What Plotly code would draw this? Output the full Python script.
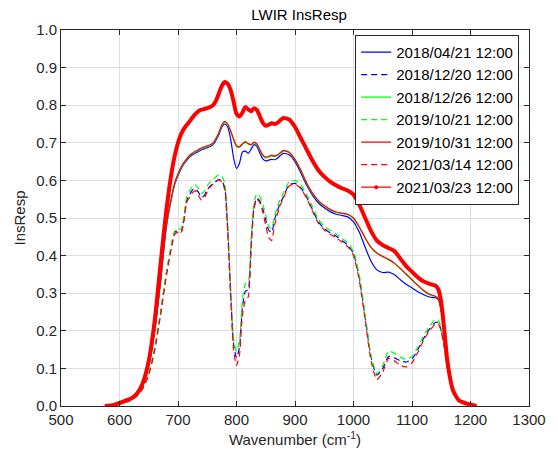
import plotly.graph_objects as go

# Wavenumber grid (cm^-1)
wn = [575, 590, 600, 610, 620, 630, 640, 650, 660, 670, 680,
      690, 695, 700, 705, 710, 715, 720, 725, 730, 735, 740, 745, 750, 755, 760, 765, 770, 775, 780,
      785, 790, 795, 800, 805, 810, 815, 820, 825, 830, 835, 840, 845, 850, 855, 860, 865, 870, 875,
      880, 890, 900, 910, 920, 930, 940, 950, 960, 970, 980, 990, 1000, 1010, 1020, 1030, 1040, 1050,
      1060, 1070, 1080, 1090, 1100, 1110, 1120, 1130, 1140,
      1145, 1150, 1155, 1160, 1165, 1170, 1180, 1190, 1200, 1210]

r_20180421 = [0.0, 0.002, 0.006, 0.012, 0.018, 0.03, 0.057, 0.108, 0.197, 0.327, 0.475,
              0.56, 0.592, 0.613, 0.63, 0.643, 0.653, 0.662, 0.668, 0.673, 0.677, 0.681, 0.684, 0.687, 0.69, 0.695, 0.707, 0.722, 0.742, 0.75,
              0.742, 0.71, 0.66, 0.632, 0.645, 0.675, 0.678, 0.672, 0.683, 0.695, 0.69, 0.672, 0.657, 0.652, 0.654, 0.656, 0.655, 0.659, 0.666,
              0.672, 0.668, 0.65, 0.62, 0.587, 0.56, 0.54, 0.527, 0.517, 0.51, 0.507, 0.503, 0.49, 0.462, 0.422, 0.385, 0.362, 0.355,
              0.356, 0.349, 0.336, 0.324, 0.314, 0.304, 0.296, 0.29, 0.288,
              0.283, 0.253, 0.193, 0.12, 0.074, 0.041, 0.015, 0.007, 0.003, 0.0]

r_20181220 = [0.0, 0.002, 0.005, 0.01, 0.016, 0.027, 0.048, 0.085, 0.15, 0.245, 0.35,
              0.435, 0.463, 0.466, 0.462, 0.495, 0.548, 0.562, 0.575, 0.578, 0.568, 0.555, 0.56, 0.575, 0.585, 0.592, 0.598, 0.603, 0.598, 0.58,
              0.47, 0.3, 0.165, 0.128, 0.155, 0.26, 0.305, 0.31, 0.43, 0.53, 0.553, 0.545, 0.525, 0.495, 0.468, 0.462, 0.495, 0.52, 0.54,
              0.556, 0.588, 0.592, 0.58, 0.555, 0.522, 0.49, 0.472, 0.461, 0.452, 0.44, 0.428, 0.405, 0.34, 0.235, 0.13, 0.082, 0.1,
              0.132, 0.128, 0.12, 0.117, 0.125, 0.15, 0.18, 0.205, 0.222,
              0.222, 0.2, 0.16, 0.105, 0.07, 0.045, 0.015, 0.005, 0.002, 0.0]

r_20181226 = [0.0, 0.002, 0.006, 0.012, 0.018, 0.03, 0.058, 0.11, 0.2, 0.33, 0.478,
              0.563, 0.595, 0.616, 0.633, 0.646, 0.656, 0.665, 0.671, 0.676, 0.68, 0.684, 0.687, 0.69, 0.693, 0.698, 0.71, 0.726, 0.746, 0.755,
              0.748, 0.73, 0.708, 0.69, 0.688, 0.695, 0.701, 0.697, 0.694, 0.7, 0.695, 0.68, 0.666, 0.66, 0.662, 0.665, 0.663, 0.666, 0.672,
              0.678, 0.674, 0.655, 0.626, 0.592, 0.565, 0.545, 0.532, 0.522, 0.515, 0.512, 0.509, 0.499, 0.475, 0.446, 0.421, 0.406, 0.397,
              0.389, 0.379, 0.365, 0.35, 0.335, 0.32, 0.306, 0.296, 0.291,
              0.284, 0.254, 0.194, 0.121, 0.075, 0.042, 0.015, 0.007, 0.003, 0.0]

r_20191021 = [0.0, 0.002, 0.005, 0.01, 0.016, 0.027, 0.048, 0.086, 0.152, 0.248, 0.355,
              0.44, 0.468, 0.472, 0.47, 0.505, 0.557, 0.572, 0.584, 0.588, 0.578, 0.566, 0.571, 0.585, 0.596, 0.603, 0.61, 0.615, 0.61, 0.592,
              0.485, 0.315, 0.18, 0.145, 0.172, 0.28, 0.325, 0.33, 0.445, 0.54, 0.565, 0.557, 0.537, 0.507, 0.478, 0.472, 0.505, 0.53, 0.55,
              0.566, 0.596, 0.6, 0.588, 0.563, 0.53, 0.497, 0.478, 0.467, 0.458, 0.446, 0.434, 0.411, 0.347, 0.242, 0.135, 0.086, 0.108,
              0.146, 0.14, 0.13, 0.124, 0.132, 0.157, 0.187, 0.212, 0.23,
              0.229, 0.206, 0.164, 0.108, 0.072, 0.046, 0.015, 0.005, 0.002, 0.0]

r_20191031 = [0.0, 0.002, 0.006, 0.012, 0.018, 0.03, 0.058, 0.11, 0.2, 0.33, 0.48,
              0.565, 0.597, 0.618, 0.635, 0.648, 0.658, 0.667, 0.673, 0.678, 0.682, 0.686, 0.689, 0.692, 0.695, 0.70, 0.712, 0.728, 0.748, 0.757,
              0.75, 0.732, 0.71, 0.692, 0.69, 0.697, 0.703, 0.698, 0.695, 0.702, 0.697, 0.682, 0.668, 0.662, 0.664, 0.667, 0.665, 0.668, 0.674,
              0.68, 0.675, 0.656, 0.627, 0.593, 0.566, 0.546, 0.533, 0.523, 0.516, 0.513, 0.51, 0.5, 0.476, 0.447, 0.422, 0.407, 0.398,
              0.39, 0.38, 0.366, 0.351, 0.336, 0.321, 0.307, 0.297, 0.292,
              0.285, 0.255, 0.195, 0.122, 0.075, 0.042, 0.015, 0.007, 0.003, 0.0]

r_20210314 = [0.0, 0.002, 0.005, 0.01, 0.016, 0.027, 0.047, 0.083, 0.147, 0.24, 0.345,
              0.43, 0.458, 0.462, 0.46, 0.49, 0.542, 0.556, 0.568, 0.572, 0.56, 0.548, 0.553, 0.57, 0.582, 0.59, 0.596, 0.601, 0.596, 0.575,
              0.46, 0.29, 0.15, 0.108, 0.135, 0.24, 0.28, 0.29, 0.415, 0.525, 0.55, 0.54, 0.515, 0.48, 0.448, 0.44, 0.48, 0.51, 0.535,
              0.552, 0.585, 0.59, 0.578, 0.552, 0.518, 0.486, 0.468, 0.457, 0.448, 0.436, 0.424, 0.4, 0.333, 0.228, 0.12, 0.07, 0.09,
              0.127, 0.12, 0.108, 0.104, 0.115, 0.143, 0.175, 0.2, 0.218,
              0.219, 0.198, 0.158, 0.103, 0.068, 0.044, 0.015, 0.005, 0.002, 0.0]

r_20210323 = [0.0, 0.003, 0.008, 0.014, 0.02, 0.033, 0.062, 0.12, 0.225, 0.375, 0.52,
              0.63, 0.67, 0.70, 0.722, 0.737, 0.748, 0.757, 0.768, 0.777, 0.784, 0.788, 0.79, 0.792, 0.795, 0.80, 0.812, 0.832, 0.852, 0.862,
              0.857, 0.84, 0.81, 0.777, 0.77, 0.78, 0.795, 0.789, 0.784, 0.792, 0.787, 0.77, 0.753, 0.745, 0.748, 0.752, 0.75, 0.753, 0.76,
              0.766, 0.762, 0.742, 0.712, 0.682, 0.652, 0.627, 0.61, 0.597, 0.587, 0.579, 0.573, 0.562, 0.535, 0.50, 0.465, 0.44, 0.428,
              0.42, 0.412, 0.392, 0.372, 0.357, 0.342, 0.331, 0.325, 0.32,
              0.31, 0.275, 0.205, 0.125, 0.075, 0.042, 0.015, 0.008, 0.004, 0.0]

labels = ["2018/04/21 12:00", "2018/12/20 12:00", "2018/12/26 12:00", "2019/10/21 12:00",
          "2019/10/31 12:00", "2021/03/14 12:00", "2021/03/23 12:00"]

FONT = "Liberation Sans, Arial, Helvetica, sans-serif"
DASH = "6px,4px"

fig = go.Figure()

styles = [
    (r_20180421, "#0000ff", "solid"),
    (r_20181220, "#0000ff", DASH),
    (r_20181226, "#00ff00", "solid"),
    (r_20191021, "#00ff00", DASH),
    (r_20191031, "#ff0000", "solid"),
    (r_20210314, "#ff0000", DASH),
]
for (ys, col, dash), lab in zip(styles, labels[:6]):
    fig.add_trace(go.Scatter(x=wn, y=ys, mode="lines", name=lab,
                             line=dict(color=col, width=1.2, dash=dash, shape="spline", smoothing=0.6)))

# Thick dotted-line series (drawn with dense dots in the original)
fig.add_trace(go.Scatter(x=wn, y=r_20210323, mode="lines", name=labels[6], showlegend=False,
                         line=dict(color="#ff0000", width=4, shape="spline", smoothing=0.6)))
# Legend entry for it: thin line with a dot
fig.add_trace(go.Scatter(x=[None], y=[None], mode="lines+markers", name=labels[6],
                         line=dict(color="#ff0000", width=1.2), marker=dict(color="#ff0000", size=4)))

axis_common = dict(
    showline=True, linecolor="#262626", linewidth=1, mirror="ticks",
    ticks="inside", ticklen=5, tickcolor="#262626", tickwidth=1,
    showgrid=True, gridcolor="#dedede", gridwidth=1, zeroline=False,
    tickfont=dict(family=FONT, size=15, color="#262626"),
)

fig.update_layout(
    width=558, height=458,
    margin=dict(l=61, r=21, t=30, b=52),
    paper_bgcolor="white", plot_bgcolor="white",
    font=dict(family=FONT, size=15, color="#262626"),
    title=dict(text="LWIR InsResp", x=0.536, xanchor="center", y=0.968, yanchor="middle",
               font=dict(family=FONT, size=15, color="#000000")),
    xaxis=dict(range=[500, 1300], dtick=100, tick0=500,
               title=dict(text="Wavenumber (cm<sup>-1</sup>)", standoff=7,
                          font=dict(family=FONT, size=15, color="#262626")),
               **axis_common),
    yaxis=dict(range=[0, 1], dtick=0.1, tick0=0, tickformat=".1f",
               title=dict(text="InsResp", standoff=6,
                          font=dict(family=FONT, size=15, color="#262626")),
               **axis_common),
    legend=dict(x=0.979, y=0.987, xanchor="right", yanchor="top",
                bgcolor="white", bordercolor="#262626", borderwidth=1,
                font=dict(family=FONT, size=15, color="#000000"),
                tracegroupgap=0, itemwidth=30),
    showlegend=True,
)

fig.write_html("out.html")
